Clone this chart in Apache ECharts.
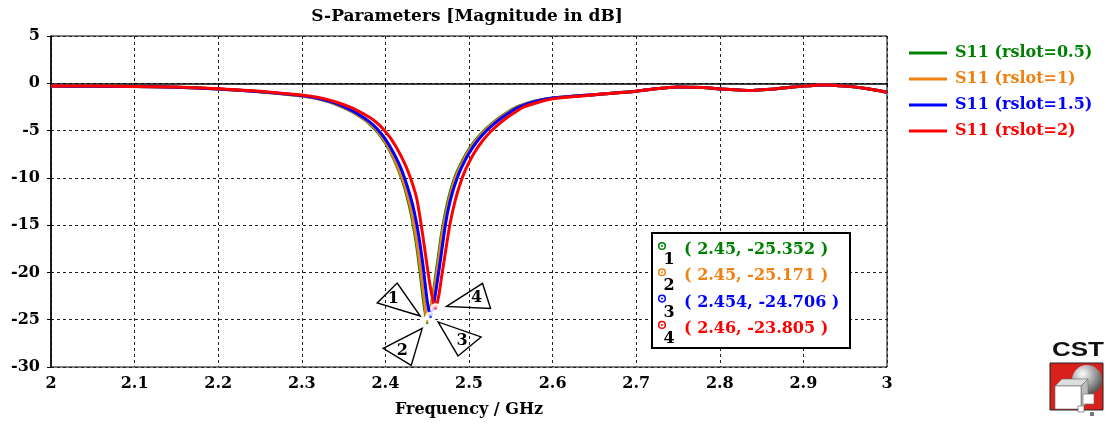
<!DOCTYPE html>
<html>
<head>
<meta charset="UTF-8">
<title>S-Parameters [Magnitude in dB]</title>
<script src="https://cdn.jsdelivr.net/npm/echarts@6/dist/echarts.min.js"></script>
<style>
  body { margin: 0; background: #fff; }
  #main { width: 1113px; height: 425px; }
</style>
</head>
<body>
<div id="main"></div>
<script>
  // series: [frequency GHz, |S11| dB]
  const seriesNames = ["S11 (rslot=0.5)", "S11 (rslot=1)", "S11 (rslot=1.5)", "S11 (rslot=2)"];
  const seriesColors = ["#008000", "#f08010", "#0000ff", "#ff0000"];

  const s11_rslot05 = [
    [2.0, -0.3], [2.05, -0.32], [2.1, -0.35], [2.15, -0.42], [2.2, -0.6], [2.25, -0.9],
    [2.3, -1.35], [2.32, -1.65], [2.34, -2.2], [2.36, -3.0], [2.37, -3.55], [2.38, -4.2],
    [2.39, -5.1], [2.4, -6.3], [2.41, -8.0], [2.42, -10.2], [2.426, -12.0], [2.431, -13.9],
    [2.436, -16.4], [2.441, -19.6], [2.446, -23.3], [2.45, -25.352],
    [2.454, -23.9], [2.458, -21.7], [2.461, -19.8], [2.464, -17.9], [2.467, -16.0],
    [2.471, -14.0], [2.476, -12.0], [2.482, -10.2], [2.487, -9.1], [2.497, -7.4],
    [2.507, -6.1], [2.517, -5.1], [2.527, -4.3], [2.537, -3.6], [2.547, -3.0], [2.557, -2.5],
    [2.578, -1.9], [2.6, -1.55], [2.62, -1.4], [2.65, -1.2], [2.7, -0.85], [2.72, -0.6],
    [2.75, -0.38], [2.78, -0.45], [2.8, -0.6], [2.835, -0.75], [2.87, -0.55], [2.9, -0.3],
    [2.925, -0.18], [2.95, -0.3], [2.975, -0.55], [3.0, -0.95]
  ];
  const s11_rslot1 = [
    [2.0, -0.3], [2.05, -0.32], [2.1, -0.35], [2.15, -0.42], [2.2, -0.6], [2.25, -0.9],
    [2.3, -1.34], [2.32, -1.64], [2.34, -2.18], [2.36, -2.97], [2.37, -3.5], [2.38, -4.15],
    [2.39, -5.0], [2.4, -6.2], [2.41, -7.85], [2.42, -10.0], [2.427, -12.0], [2.432, -13.9],
    [2.437, -16.4], [2.442, -19.6], [2.447, -23.2], [2.45, -25.171],
    [2.454, -23.8], [2.459, -21.5], [2.462, -19.7], [2.465, -17.8], [2.468, -15.9],
    [2.472, -14.0], [2.477, -12.0], [2.483, -10.2], [2.488, -9.1], [2.498, -7.4],
    [2.508, -6.1], [2.518, -5.1], [2.528, -4.3], [2.538, -3.6], [2.548, -3.0], [2.558, -2.5],
    [2.579, -1.9], [2.6, -1.55], [2.62, -1.4], [2.65, -1.2], [2.7, -0.85], [2.72, -0.6],
    [2.75, -0.38], [2.78, -0.45], [2.8, -0.6], [2.835, -0.75], [2.87, -0.55], [2.9, -0.3],
    [2.925, -0.18], [2.95, -0.3], [2.975, -0.55], [3.0, -0.95]
  ];
  const s11_rslot15 = [
    [2.0, -0.3], [2.05, -0.32], [2.1, -0.35], [2.15, -0.42], [2.2, -0.6], [2.25, -0.9],
    [2.3, -1.3], [2.32, -1.6], [2.34, -2.1], [2.36, -2.9], [2.37, -3.4], [2.38, -4.0],
    [2.39, -4.8], [2.4, -5.9], [2.41, -7.4], [2.42, -9.3], [2.43, -12.0], [2.435, -13.8],
    [2.44, -16.2], [2.445, -19.3], [2.45, -23.0], [2.454, -24.706],
    [2.458, -23.3], [2.462, -21.0], [2.465, -19.2], [2.468, -17.3], [2.471, -15.4],
    [2.475, -13.4], [2.48, -11.6], [2.486, -10.0], [2.49, -9.1], [2.5, -7.4], [2.51, -6.1],
    [2.52, -5.1], [2.53, -4.3], [2.54, -3.6], [2.55, -3.0], [2.56, -2.5], [2.58, -1.9],
    [2.6, -1.55], [2.62, -1.4], [2.65, -1.2], [2.7, -0.85], [2.72, -0.6], [2.75, -0.38],
    [2.78, -0.45], [2.8, -0.6], [2.835, -0.75], [2.87, -0.55], [2.9, -0.3], [2.925, -0.18],
    [2.95, -0.3], [2.975, -0.55], [3.0, -0.95]
  ];
  const s11_rslot2 = [
    [2.0, -0.28], [2.05, -0.3], [2.1, -0.33], [2.15, -0.4], [2.2, -0.58], [2.25, -0.85],
    [2.3, -1.25], [2.32, -1.5], [2.34, -1.95], [2.36, -2.6], [2.37, -3.05], [2.38, -3.55],
    [2.39, -4.2], [2.397, -4.8], [2.407, -5.9], [2.417, -7.4], [2.427, -9.3], [2.437, -12.0],
    [2.442, -14.5], [2.447, -17.5], [2.452, -20.6], [2.456, -22.6], [2.46, -23.805],
    [2.464, -22.4], [2.467, -20.6], [2.47, -18.9], [2.474, -16.6], [2.477, -15.0],
    [2.481, -13.3], [2.486, -11.6], [2.492, -10.0], [2.496, -9.1], [2.506, -7.4],
    [2.516, -6.1], [2.526, -5.1], [2.536, -4.3], [2.546, -3.6], [2.556, -3.0], [2.566, -2.5],
    [2.585, -1.95], [2.6, -1.65], [2.62, -1.45], [2.65, -1.22], [2.7, -0.85], [2.72, -0.6],
    [2.75, -0.38], [2.78, -0.45], [2.8, -0.6], [2.835, -0.75], [2.87, -0.55], [2.9, -0.3],
    [2.925, -0.18], [2.95, -0.3], [2.975, -0.55], [3.0, -0.95]
  ];
  const seriesData = [s11_rslot05, s11_rslot1, s11_rslot15, s11_rslot2];

  // curve markers (minimum of each curve)
  const markerPoints = [[2.45, -25.352], [2.45, -25.171], [2.454, -24.706], [2.46, -23.805]];
  const markerLabels = ["1", "2", "3", "4"];

  const serif = "DejaVu Serif";
  const chart = echarts.init(document.getElementById("main"));

  const lineSeries = seriesData.map((d, i) => ({
    name: seriesNames[i],
    type: "line",
    data: d,
    smooth: 0.2,
    symbol: "none",
    lineStyle: { color: seriesColors[i], width: 3 },
    itemStyle: { color: seriesColors[i] },
    z: 2 + i
  }));

  const ringSeries = markerPoints.map((p, i) => ({
    type: "scatter",
    data: [p],
    symbol: "emptyCircle",
    symbolSize: 9,
    itemStyle: { color: "#fff", borderColor: seriesColors[i], borderWidth: 2 },
    z: 10
  }));
  const dotSeries = markerPoints.map((p, i) => ({
    type: "scatter",
    data: [p],
    symbol: "circle",
    symbolSize: 2.5,
    itemStyle: { color: seriesColors[i] },
    z: 11
  }));

  const option = {
    animation: false,
    backgroundColor: "#fff",
    title: {
      text: "S-Parameters [Magnitude in dB]",
      left: 462,
      top: 3,
      textAlign: "center",
      textStyle: { fontFamily: serif, fontWeight: "bold", fontSize: 17, color: "#000" }
    },
    legend: {
      orient: "vertical",
      left: 904,
      top: 40,
      icon: "rect",
      itemWidth: 38,
      itemHeight: 3,
      itemGap: 10,
      data: seriesNames.map((n, i) => ({
        name: n,
        textStyle: { color: seriesColors[i] }
      })),
      textStyle: { fontFamily: serif, fontWeight: "bold", fontSize: 16, padding: [0, 0, 0, 3] }
    },
    grid: {
      left: 51, right: 226, top: 36, bottom: 58,
      show: true, borderColor: "#000", borderWidth: 1
    },
    xAxis: {
      type: "value",
      min: 2, max: 3, interval: 0.1,
      name: "Frequency / GHz",
      nameLocation: "middle",
      nameGap: 35,
      nameTextStyle: { fontFamily: serif, fontWeight: "bold", fontSize: 16, color: "#000" },
      axisLine: { lineStyle: { color: "#000", width: 1.5 } },
      axisTick: { show: true, length: 4, lineStyle: { color: "#000" } },
      axisLabel: {
        fontFamily: serif, fontWeight: "bold", fontSize: 16, color: "#000", margin: 9,
        formatter: v => String(+v.toFixed(1))
      },
      splitLine: { show: true, lineStyle: { color: "#222", type: [3, 3], width: 1 } }
    },
    yAxis: {
      type: "value",
      min: -30, max: 5, interval: 5,
      axisLine: { show: true, lineStyle: { color: "#000", width: 1.5 } },
      axisTick: { show: true, length: 4, lineStyle: { color: "#000" } },
      axisLabel: { fontFamily: serif, fontWeight: "bold", fontSize: 16, color: "#000", margin: 11 },
      splitLine: { show: true, lineStyle: { color: "#222", type: [3, 3], width: 1 } }
    },
    series: lineSeries.concat(ringSeries, dotSeries)
  };
  chart.setOption(option);

  // callout triangles next to each marker, offsets in pixels from the marker
  const calloutShapes = [
    { pts: [[-7, -7], [-50, -20], [-30, -40]], txt: [-34, -24] },
    { pts: [[-5, 7], [-44, 27], [-16, 44]], txt: [-25, 30] },
    { pts: [[7.5, 5], [27.5, 39], [50.5, 20]], txt: [31.5, 24] },
    { pts: [[11, -2], [47, -25], [55, 0]], txt: [41, -11] }
  ];

  const graphics = [];
  markerPoints.forEach((p, i) => {
    const [px, py] = chart.convertToPixel({ gridIndex: 0 }, p);
    const c = calloutShapes[i];
    graphics.push({
      type: "polygon",
      shape: { points: c.pts.map(o => [px + o[0], py + o[1]]) },
      style: { fill: "rgba(255,255,255,0)", stroke: "#000", lineWidth: 1.4 },
      z: 20
    });
    graphics.push({
      type: "text",
      x: px + c.txt[0], y: py + c.txt[1],
      style: {
        text: markerLabels[i], fill: "#000", align: "center", verticalAlign: "middle",
        font: "bold 16px " + serif
      },
      z: 21
    });
  });

  // marker readout box
  const boxX = 652, boxY = 233;
  graphics.push({
    type: "rect",
    shape: { x: boxX, y: boxY, width: 198, height: 115 },
    style: { fill: "#fff", stroke: "#000", lineWidth: 2 },
    z: 30
  });
  markerPoints.forEach((p, i) => {
    const rowY = boxY + 17 + i * 26.3;
    graphics.push({
      type: "circle",
      shape: { cx: boxX + 10, cy: rowY - 4, r: 3.3 },
      style: { fill: "#fff", stroke: seriesColors[i], lineWidth: 1.5 },
      z: 31
    });
    graphics.push({
      type: "circle",
      shape: { cx: boxX + 10, cy: rowY - 4, r: 1 },
      style: { fill: seriesColors[i] },
      z: 32
    });
    graphics.push({
      type: "text",
      x: boxX + 17, y: rowY + 10,
      style: {
        text: markerLabels[i], fill: "#000", align: "center", verticalAlign: "middle",
        font: "bold 16px " + serif
      },
      z: 31
    });
    graphics.push({
      type: "text",
      x: boxX + 32, y: rowY,
      style: {
        text: "( " + p[0] + ", " + p[1] + " )", fill: seriesColors[i],
        verticalAlign: "middle", font: "bold 16px " + serif
      },
      z: 31
    });
  });

  // CST logo
  graphics.push({
    type: "text",
    x: 1078, y: 350,
    scaleX: 1.3,
    style: {
      text: "CST", fill: "#111", align: "center", verticalAlign: "middle",
      font: "bold 20px Liberation Sans"
    }
  });
  graphics.push({
    type: "group",
    children: [
      { type: "rect", shape: { x: 1050, y: 363, width: 53, height: 47 },
        style: { fill: "#d8201c", stroke: "#222", lineWidth: 1 } },
      { type: "circle", shape: { cx: 1087, cy: 380, r: 15 },
        style: {
          fill: new echarts.graphic.RadialGradient(0.35, 0.3, 0.8, [
            { offset: 0, color: "#ffffff" }, { offset: 1, color: "#444" }
          ])
        } },
      { type: "polygon", shape: { points: [[1055, 386], [1062, 379], [1088, 379], [1081, 386]] },
        style: { fill: "#ddd", stroke: "#666", lineWidth: 0.6 } },
      { type: "polygon", shape: { points: [[1081, 386], [1088, 379], [1088, 402], [1081, 409]] },
        style: { fill: "#bbb", stroke: "#666", lineWidth: 0.6 } },
      { type: "rect", shape: { x: 1055, y: 386, width: 26, height: 23 },
        style: { fill: "#fff", stroke: "#666", lineWidth: 0.6 } },
      { type: "rect", shape: { x: 1083, y: 394, width: 11, height: 10 },
        style: { fill: "#fff", stroke: "#666", lineWidth: 0.6 } },
      { type: "rect", shape: { x: 1078, y: 406, width: 6, height: 6 },
        style: { fill: "#fff", stroke: "#555", lineWidth: 0.6 } },
      { type: "rect", shape: { x: 1090, y: 412, width: 4, height: 4 },
        style: { fill: "#777" } }
    ]
  });

  chart.setOption({ graphic: graphics });
</script>
</body>
</html>
